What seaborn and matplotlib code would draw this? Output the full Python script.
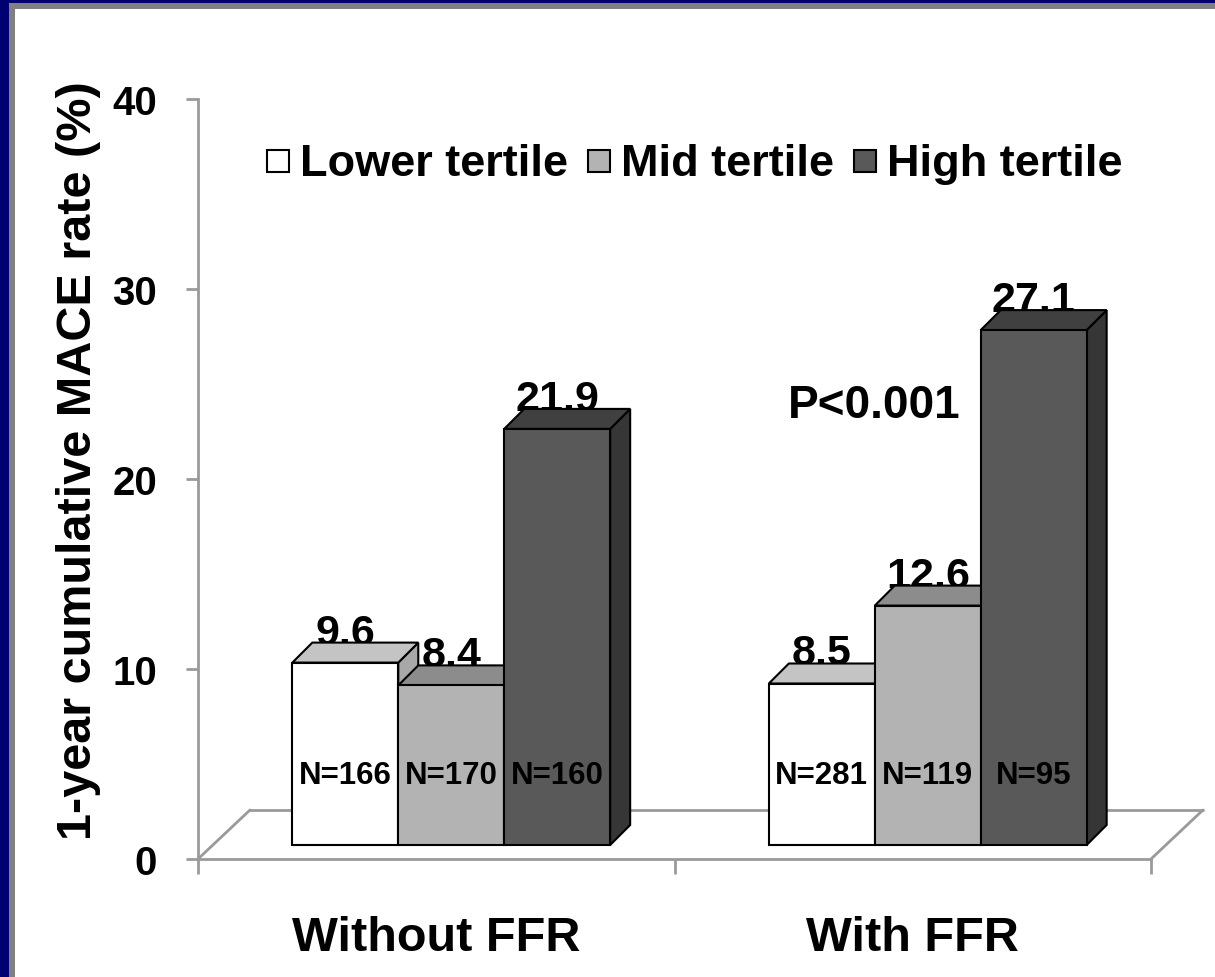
import numpy as np
import pandas as pd
import matplotlib
matplotlib.use("Agg")
import matplotlib.pyplot as plt
import seaborn as sns
from matplotlib.patches import Polygon, Rectangle
from matplotlib.lines import Line2D
from matplotlib.transforms import ScaledTranslation, IdentityTransform

# ---------------- data ----------------
groups = ["Without FFR", "With FFR"]
tertiles = ["Lower tertile", "Mid tertile", "High tertile"]
without_ffr = [9.6, 8.4, 21.9]
with_ffr = [8.5, 12.6, 27.1]
n_without = ["N=166", "N=170", "N=160"]
n_with = ["N=281", "N=119", "N=95"]
yticks = [0, 10, 20, 30, 40]
p_text = "P<0.001"
ylabel = "1-year cumulative MACE rate (%)"

# ---------------- styles ----------------
front_colors = ["#ffffff", "#b3b3b3", "#595959"]
top_colors = ["#c4c4c4", "#8c8c8c", "#404040"]
side_colors = ["#a8a8a8", "#777777", "#363636"]
axis_gray = "#9a9a9a"

W, H, DPI = 1215, 978, 100
sns.set_theme(style="white")
plt.rcParams["font.family"] = ["Liberation Sans", "DejaVu Sans"]
plt.rcParams["text.color"] = "black"
plt.rcParams["axes.labelcolor"] = "black"
plt.rcParams["xtick.labelcolor"] = "black"
plt.rcParams["ytick.labelcolor"] = "black"

fig = plt.figure(figsize=(W / DPI, H / DPI), dpi=DPI, facecolor="white")

# slide frame (navy + gray)
fig.add_artist(Rectangle((0, 0), 9 / W, 1, transform=fig.transFigure, color="#000070", lw=0))
fig.add_artist(Rectangle((0, 1 - 4 / H), 1, 4 / H, transform=fig.transFigure, color="#000070", lw=0))
fig.add_artist(Rectangle((9 / W, 0), 6 / W, 1 - 4 / H, transform=fig.transFigure, color="#808080", lw=0))
fig.add_artist(Rectangle((9 / W, 1 - 10 / H), 1, 6 / H, transform=fig.transFigure, color="#808080", lw=0))

ax = fig.add_axes([198 / W, (H - 860) / H, (1151 - 198) / W, (860 - 100) / H])
ax.set_facecolor("none")

df = pd.DataFrame({
    "group": np.repeat(groups, len(tertiles)),
    "tertile": tertiles * len(groups),
    "value": without_ffr + with_ffr,
})
n_labels = n_without + n_with

sns.barplot(data=df, x="group", y="value", hue="tertile", order=groups,
            hue_order=tertiles, palette=front_colors, saturation=1,
            width=0.667, gap=0, edgecolor="black", linewidth=1.5,
            errorbar=None, legend=False, ax=ax)

ax.set_xlim(-0.5, 1.5)
ax.set_ylim(0, 40)

# spines / ticks
for s in ["top", "right"]:
    ax.spines[s].set_visible(False)
for s in ["left", "bottom"]:
    ax.spines[s].set_color(axis_gray)
    ax.spines[s].set_linewidth(2)
ax.set_yticks(yticks)
ax.set_yticklabels([str(t) for t in yticks], fontsize=29, fontweight="bold", color="black")
ax.tick_params(axis="y", direction="out", length=8.6, width=2, color=axis_gray,
               labelcolor="black", pad=21, left=True)
ax.set_xticks([0, 1])
ax.set_xticklabels(groups, fontsize=35, fontweight="bold", color="black")
ax.set_xticks([-0.5, 0.5, 1.5], minor=True)
ax.tick_params(axis="x", which="major", length=0, pad=40, bottom=True, labelcolor="black")
ax.tick_params(axis="x", which="minor", direction="out", length=10.8, width=2,
               color=axis_gray, bottom=True)
ax.set_xlabel("")
ax.set_ylabel(ylabel, fontsize=35, fontweight="bold", color="black")
ax.yaxis.set_label_coords((101 - 198) / 953, 0.526)
ax.grid(False)

# 3D floor
fl = ax.transData.transform((-0.5, 0))
fr = ax.transData.transform((1.5, 0))
fdx, fdy = 52, 49
for xs, ys in [([fl[0], fl[0] + fdx], [fl[1], fl[1] + fdy]),
               ([fl[0] + fdx, fr[0] + fdx], [fl[1] + fdy, fr[1] + fdy]),
               ([fr[0], fr[0] + fdx], [fr[1], fr[1] + fdy])]:
    ax.add_line(Line2D(xs, ys, transform=IdentityTransform(), color=axis_gray,
                       lw=2, clip_on=False, zorder=1))

# 3D bars
shift = ScaledTranslation(15 / DPI, 14 / DPI, fig.dpi_scale_trans)
bt = ax.transData + shift
dx, dy = 20, 20
bars = sorted(ax.patches, key=lambda p: p.get_x())
for i, p in enumerate(bars):
    k = i % len(tertiles)
    z = 3 + 4 * i
    p.set_transform(bt)
    p.set_zorder(z + 3)
    p.set_clip_on(False)
    x0, w, h = p.get_x(), p.get_width(), p.get_height()
    xa, ya = bt.transform((x0, 0))
    xb, yb = bt.transform((x0 + w, h))
    side = Polygon([(xb, ya), (xb, yb), (xb + dx, yb + dy), (xb + dx, ya + dy)],
                   closed=True, transform=IdentityTransform(), facecolor=side_colors[k],
                   edgecolor="black", lw=1.5, clip_on=False, zorder=z)
    top = Polygon([(xa, yb), (xb, yb), (xb + dx, yb + dy), (xa + dx, yb + dy)],
                  closed=True, transform=IdentityTransform(), facecolor=top_colors[k],
                  edgecolor="black", lw=1.5, clip_on=False, zorder=z + 2)
    ax.add_patch(side)
    ax.add_patch(top)
    ax.annotate(f"{h:.1f}", xy=(x0 + w / 2, h), xycoords=bt,
                xytext=(0, 19 * 0.72), textcoords="offset points",
                ha="center", va="baseline", fontsize=31, fontweight="bold",
                color="black", zorder=z + 1, annotation_clip=False)
    ax.annotate(n_labels[i], xy=(x0 + w / 2, 3.7), xycoords=bt,
                ha="center", va="center", fontsize=22.5, fontweight="bold",
                color="black", zorder=200, annotation_clip=False)

ax.text(0.92, 23.9, p_text, ha="center", va="center", fontsize=33,
        fontweight="bold", color="black", zorder=200)

# legend (laid out manually so all entries share one baseline)
renderer = fig.canvas.get_renderer()
lx = 267.0            # left edge, px
ly_center = 162.0     # vertical centre, px from top
sq = 22.0
baseline = ly_center + 14.0
for c, lab in zip(front_colors, tertiles):
    fig.add_artist(Rectangle((lx / W, 1 - (ly_center + sq / 2) / H), sq / W, sq / H,
                             transform=fig.transFigure, facecolor=c,
                             edgecolor="black", lw=1.5))
    t = fig.text((lx + sq + 11) / W, 1 - baseline / H, lab, fontsize=32.5,
                 fontweight="bold", color="black", ha="left", va="baseline")
    tw = t.get_window_extent(renderer).width
    lx = lx + sq + 11 + tw + 20

fig.savefig("out.png", dpi=DPI, facecolor="white")
